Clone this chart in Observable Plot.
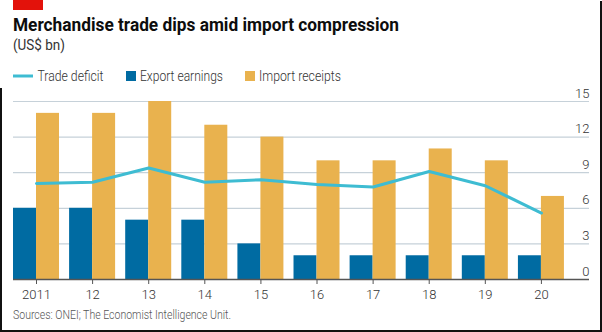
<!DOCTYPE html>
<html>
<head>
<meta charset="utf-8">
<script src="https://cdn.jsdelivr.net/npm/d3@7"></script>
<script src="https://cdn.jsdelivr.net/npm/@observablehq/plot@0.6"></script>
<style>
  html, body { margin: 0; padding: 0; background: #fff; }
  #wrap { position: relative; width: 602px; height: 332px; overflow: hidden; background: #fff; font-family: Roboto, "Noto Sans", sans-serif; }
  #chart { position: absolute; left: 0; top: 85px; }
  .abs { position: absolute; }
</style>
</head>
<body>
<div id="wrap">
  <div class="abs" style="left:13px;top:0;width:30px;height:10px;background:#e3120b"></div>
  <svg class="abs" style="left:0;top:0" width="602" height="88" font-family="Roboto, 'Noto Sans', sans-serif">
    <text x="13" y="31" font-size="18" font-weight="700" fill="#0d0d0d" textLength="386" lengthAdjust="spacingAndGlyphs">Merchandise trade dips amid import compression</text>
    <text x="13" y="50" font-size="14" fill="#333" textLength="52" lengthAdjust="spacingAndGlyphs">(US$ bn)</text>
    <line x1="13" x2="33" y1="76" y2="76" stroke="#3ebcd2" stroke-width="3"></line>
    <text x="37.5" y="81" font-size="14" font-weight="300" fill="#333" textLength="66" lengthAdjust="spacingAndGlyphs">Trade deficit</text>
    <rect x="126" y="71" width="10" height="10" fill="#006ba2"></rect>
    <text x="140" y="81" font-size="14" font-weight="300" fill="#333" textLength="83" lengthAdjust="spacingAndGlyphs">Export earnings</text>
    <rect x="245" y="71" width="10" height="10" fill="#e9b24e"></rect>
    <text x="259" y="81" font-size="14" font-weight="300" fill="#333" textLength="82" lengthAdjust="spacingAndGlyphs">Import receipts</text>
  </svg>
  <div id="chart"></div>
  <svg class="abs" style="left:0;top:300px" width="602" height="30" font-family="Roboto, 'Noto Sans', sans-serif">
    <text x="13" y="18.5" font-size="12.5" font-weight="300" fill="#555" textLength="218" lengthAdjust="spacingAndGlyphs">Sources: ONEI; The Economist Intelligence Unit.</text>
  </svg>
  <div class="abs" style="left:600px;top:1px;width:2px;height:331px;background:#111"></div>
  <div class="abs" style="left:0;top:330px;width:602px;height:2px;background:#111"></div>
  <div class="abs" style="left:0;top:88px;width:1.5px;height:244px;background:#111"></div>
</div>
<script>
const years = [2011, 2012, 2013, 2014, 2015, 2016, 2017, 2018, 2019, 2020];
const xLabels = ["2011", "12", "13", "14", "15", "16", "17", "18", "19", "20"];
const exportEarnings = [6, 6, 5, 5, 3, 2, 2, 2, 2, 2];
const importReceipts = [14, 14, 15, 13, 12, 10, 10, 11, 10, 7];
const tradeDeficit = [8.1, 8.2, 9.4, 8.2, 8.4, 8.0, 7.8, 9.1, 7.9, 5.6];
const yTicks = [0, 3, 6, 9, 12, 15];

const rows = years.map((year, i) => ({
  year,
  exp: exportEarnings[i],
  imp: importReceipts[i],
  def: tradeDeficit[i]
}));

const half = 0.41; // bar width in years

const chart = Plot.plot({
  width: 602,
  height: 225,
  marginTop: 16,
  marginBottom: 31,
  marginLeft: 13,
  marginRight: 13,
  x: { type: "linear", domain: [2011 - half, 2020.857] },
  y: { domain: [0, 15], axis: null },
  style: { fontFamily: "Roboto, 'Noto Sans', sans-serif", fontSize: "13px", fontWeight: 300, color: "#333", background: "transparent" },
  marks: [
    Plot.ruleY(yTicks.filter(d => d > 0), { y: d => d, stroke: "#c6d1d9", strokeWidth: 1.2 }),
    Plot.rect(rows, { x1: d => d.year - half, x2: "year", y1: 0, y2: "exp", fill: "#006ba2" }),
    Plot.rect(rows, { x1: "year", x2: d => d.year + half, y1: 0, y2: "imp", fill: "#e9b24e" }),
    Plot.ruleY([0], { stroke: "#555", strokeWidth: 1.3 }),
    Plot.line(rows, { x: "year", y: "def", stroke: "#3ebcd2", strokeWidth: 3, strokeLinejoin: "miter" }),
    Plot.axisX({
      ticks: years,
      tickFormat: d => xLabels[years.indexOf(d)],
      tickSize: 5,
      tickPadding: 5,
      label: null,
      stroke: "#555",
      fill: "#333"
    }),
    Plot.text(yTicks, {
      y: d => d,
      text: d => String(d),
      frameAnchor: "right",
      textAnchor: "end",
      lineAnchor: "bottom",
      dy: -4,
      fill: "#333"
    })
  ]
});
document.getElementById("chart").appendChild(chart);
</script>
</body>
</html>
